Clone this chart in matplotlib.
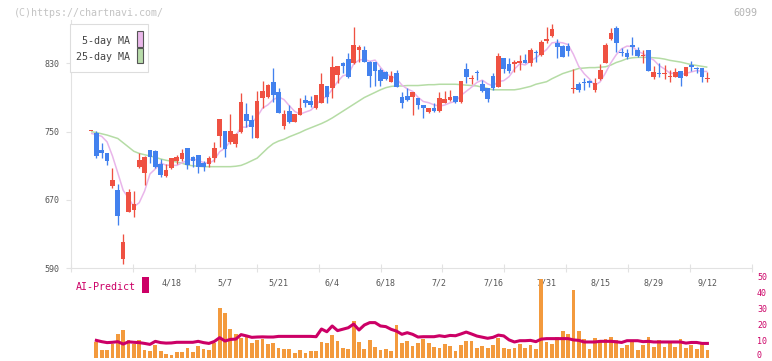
import matplotlib
matplotlib.use("Agg")
import matplotlib.pyplot as plt
from matplotlib.patches import Rectangle
import matplotlib.transforms as mtransforms
import numpy as np

# ---------------- data ----------------
opens = [751, 748.5, 728.5, 725, 686.8, 681.7, 601.3, 656.3, 658.6, 709,
         702, 728.6, 727, 712, 698, 708, 715.6, 718, 730.5, 720.3,
         722.7, 713.7, 711.7, 719.5, 745.3, 750.8, 737.5, 735.6, 750, 770.7,
         763.6, 743, 789.8, 791, 808.1, 796.8, 757, 774.6, 761.7, 769.5,
         787, 786, 777.3, 784, 803.5, 800.7, 816.4, 830.8, 835, 830,
         845.6, 845.6, 832, 832, 822.2, 820.3, 808.5, 818.3, 790.2, 791.8,
         790.2, 789.8, 781.2, 773, 777.3, 774.6, 784, 787.1, 791.8, 785.1,
         823, 811.3, 819.5, 805.8, 800.7, 815.2, 802.7, 835.9, 828.8, 828.8,
         830.8, 833.9, 830.8, 843.7, 839.8, 856.6, 862.4, 854.2, 850.3, 850.3,
         800.3, 805.8, 808, 809.3, 798.8, 811.7, 830.8, 858.5, 871, 842.9,
         841.7, 851.5, 845.6, 838.6, 845.6, 814.4, 819.1, 817.1, 814.4, 814.4,
         821, 815.6, 828, 824.9, 824.9, 811.3]
highs = [751, 750.8, 737, 725.5, 707, 688.7, 630.2, 682.5, 680, 725.5,
         721, 729, 729, 717.6, 712, 719.5, 722.7, 729.7, 731, 722,
         723, 716, 721, 738.3, 765, 751, 770.7, 749, 795, 783,
         769.5, 797.6, 809.3, 806, 824.2, 800.7, 775.4, 781.2, 771, 790,
         793, 791.8, 793.5, 819, 804, 838.6, 827, 831, 842.5, 873,
         851.5, 850, 833, 832, 824, 821, 821, 822.2, 796.8, 800.7,
         797, 790, 781.5, 777.5, 783, 796.8, 798, 798.8, 792, 809.5,
         830.8, 816.4, 822, 810.5, 801, 818.3, 842.5, 836, 835.9, 834,
         839.8, 841, 847.6, 845.6, 857.3, 873, 876, 858.5, 851, 854.2,
         823, 808.5, 812.4, 810.5, 812.4, 828.8, 853.4, 871, 873.7, 847.6,
         846.4, 860.5, 848.8, 845.6, 846, 826.9, 830.8, 828, 822.2, 824.2,
         821.5, 825.5, 832.7, 826, 825, 820.3]
lows = [751, 719.5, 719.5, 711.4, 684.4, 641, 595, 656, 650.5, 708,
        687, 713, 707, 696.5, 696.5, 706, 712.5, 716, 706.7, 709,
        702, 704, 709, 714, 731.6, 720, 736, 732, 748, 756,
        743, 742, 777.3, 789, 785, 772, 752.7, 760, 761, 769,
        779.3, 778.5, 776, 783, 783, 790, 806.6, 819, 812.4, 829,
        832, 831, 802.7, 803.5, 803.5, 810.5, 808, 802, 777.3, 786,
        769.5, 776, 765.6, 772, 773, 773, 783, 786, 784, 784,
        806.6, 805.8, 811, 797, 785, 798.8, 802, 819, 819, 820.3,
        822.2, 830, 826.9, 832, 839, 854, 861, 835.9, 837, 838.6,
        795.7, 796.8, 798.8, 802.7, 796.8, 811, 830, 857.3, 843.7, 838.6,
        834.7, 839.8, 837.8, 830, 821, 811.3, 814.4, 811.3, 808.5, 814,
        803.9, 815, 821.4, 819, 808.5, 808.5]
closes = [751, 722, 725.4, 716, 693.4, 651.6, 620.8, 679.3, 665.3, 717,
          720, 720.8, 709, 699.3, 705, 719, 720.3, 724.6, 711.4, 715.6,
          709, 709, 719.2, 730.9, 764.8, 729.7, 750.8, 747.3, 785, 762.9,
          756, 786, 797.6, 804.6, 793, 772.2, 770.7, 761.7, 770.7, 777.3,
          784, 781.6, 793, 805.8, 791, 826, 826.9, 827.3, 814.4, 851.5,
          848.8, 832, 815.2, 821.4, 809.7, 811.3, 815.2, 802.7, 784, 787.1,
          796.8, 781.2, 777.3, 777.3, 774.6, 789, 787.9, 790.2, 785.1, 809.3,
          813.6, 812.4, 818.3, 798, 787.9, 800.7, 838.6, 823.4, 821.4, 832,
          832.7, 830.8, 845.6, 841.7, 855, 858.1, 869.8, 849.5, 837.8, 844.8,
          801.1, 798.8, 807, 806.6, 807.4, 822.2, 851.5, 865.9, 854.2, 841.7,
          837.8, 848.8, 838.6, 839.8, 821.4, 820.3, 817.1, 818.3, 815.2, 819.5,
          813.2, 825.3, 826.1, 823.7, 814.4, 813.2]

ma5 = [748, 746.5, 744.5, 738,
       721.6, 701.7, 681.4, 672.2, 662.1, 666.8, 680.5, 700.5, 706.4, 713.2,
       710.8, 710.6, 710.5, 713.6, 716.1, 718.2, 716.2, 713.9, 712.8, 716.7,
       726.6, 730.7, 739.1, 744.7, 755.5, 755.1, 760.4, 767.4, 777.5, 781.4,
       787.4, 790.7, 787.6, 780.4, 773.7, 770.5, 772.9, 775.1, 781.3, 788.3,
       791.1, 799.5, 808.5, 815.4, 817.1, 829.2, 833.8, 834.8, 832.4, 833.8,
       825.4, 817.9, 814.6, 812.1, 804.6, 800.1, 797.2, 790.4, 785.3, 783.9,
       781.4, 779.9, 781.2, 783.8, 785.4, 792.3, 797.2, 802.1, 807.7, 810.3,
       806.0, 803.5, 808.7, 809.7, 814.4, 823.2, 829.6, 828.1, 832.5, 836.6,
       841.2, 846.2, 854.0, 854.8, 854.0, 852.0, 840.6, 826.4, 817.9, 811.7,
       804.2, 808.4, 818.9, 830.7, 840.2, 847.1, 850.2, 849.7, 844.2, 841.3,
       837.3, 833.8, 827.4, 823.4, 818.5, 818.1, 816.7, 818.3, 819.9, 821.6,
       820.5, 820.5]

ma25 = [750, 749, 747.5, 746, 744, 742, 737, 732, 727, 724.5,
        723, 721.5, 720, 718, 716.5, 715.5, 714.5, 713, 711, 710,
        709.5, 709, 709, 709, 709, 709, 709, 709.5, 710.5, 713,
        716, 719, 725, 731, 736, 739, 741, 744, 746.5, 749,
        752, 754.5, 757, 759.5, 762.5, 766, 770, 774, 778, 782,
        786, 790, 793, 796, 799, 801.5, 803, 803.5, 803.5, 804,
        804, 804, 804.5, 805, 805, 805.5, 805.5, 805.5, 805.5, 805,
        804.5, 804, 803.5, 802, 800.5, 799, 799, 799, 799, 799,
        800, 801.5, 803, 805.5, 807, 808.5, 812, 815, 818, 820,
        822, 824, 824.5, 825, 825, 825.5, 826, 828, 831, 833,
        835.5, 836.5, 837, 837, 837, 836.5, 836, 835, 833.5, 832.5,
        831.5, 830, 828.5, 827.5, 826.5, 825.5]

# volume / AI-Predict start at the second candle
volume = [10.2, 5.2, 5.2, 9.1, 15.2, 17.7, 11.4, 9.1, 11.4, 5.2,
          4.8, 8.3, 4.6, 2.7, 2.1, 3.9, 3.9, 6.4, 3.9, 7.7,
          5.8, 5.2, 9.5, 31.4, 28.3, 18.3, 15.2, 12.7, 14.5, 9.5,
          11.4, 12.1, 8.9, 9.5, 6.4, 5.8, 5.8, 3.3, 5.2, 3.3,
          4.6, 4.6, 10.2, 9.5, 14.5, 10.8, 6.4, 5.8, 23.3, 10.2,
          5.8, 11.4, 7.0, 5.2, 5.8, 4.6, 20.8, 9.5, 10.8, 7.7,
          9.5, 12.1, 9.5, 7.0, 6.4, 8.9, 7.7, 4.6, 8.3, 10.8,
          10.8, 6.4, 7.7, 6.4, 8.3, 12.7, 6.4, 5.8, 6.4, 8.9,
          6.4, 8.3, 5.8, 49.5, 10.2, 8.9, 13.3, 17.0, 15.2, 42.7,
          17.0, 12.1, 5.8, 12.7, 11.4, 12.1, 13.3, 11.4, 6.6, 8.3,
          10.8, 5.2, 8.3, 13.3, 7.0, 11.4, 7.0, 9.5, 7.0, 12.1,
          6.4, 8.3, 5.8, 8.9, 5.2]
ai_predict = [11.2, 10.4, 9.8, 10.0, 10.4, 8.9, 10.3, 10.0, 9.8, 9.3,
              8.7, 10.6, 9.8, 9.5, 9.6, 10.0, 10.0, 10.0, 10.0, 10.6,
              9.8, 9.3, 10.5, 12.9, 10.8, 11.8, 12.0, 14.8, 14.0, 13.1,
              13.3, 13.4, 13.3, 13.3, 13.7, 13.7, 13.7, 13.7, 13.7, 13.7,
              13.7, 13.5, 18.3, 16.6, 20.2, 17.3, 18.2, 19.1, 21.4, 17.7,
              20.8, 22.3, 22.3, 20.2, 19.8, 18.1, 17.0, 15.0, 16.0, 15.0,
              13.3, 13.5, 13.5, 13.5, 14.1, 13.6, 14.3, 14.1, 15.2, 16.4,
              15.2, 13.9, 13.2, 12.5, 13.1, 14.5, 14.0, 11.5, 10.2, 11.0,
              11.0, 11.2, 10.4, 12.0, 12.3, 12.3, 12.3, 12.3, 12.3, 11.5,
              11.2, 10.2, 10.2, 10.2, 10.6, 10.6, 10.6, 10.3, 9.9, 11.0,
              11.0, 11.0, 10.4, 10.6, 10.2, 10.2, 10.2, 10.2, 10.2, 10.2,
              9.5, 9.9, 9.9, 9.3, 9.3]

date_labels = ["4/18", "5/7", "5/21", "6/4", "6/18", "7/2", "7/16", "7/31", "8/15", "8/29", "9/12"]
date_label_idx = [15, 25, 35, 45, 55, 65, 75, 85, 95, 105, 115]
price_ticks = [590, 670, 750, 830]
volume_ticks = [0, 10, 20, 30, 40, 50]

# ---------------- layout (pixels) ----------------
W, H = 772, 361
AX_L, AX_R = 70.7, 752.3
MAIN_TOP, MAIN_BOT = 20.0, 268.3
VOL_TOP, VOL_BOT = 275.0, 358.3
X0_PX, DX_PX = 91.0, 5.36          # pixel of candle 0, pixels per candle
PX_PER_PRICE = 0.854
PX_PER_VOL = 1.6
MONO = "DejaVu Sans Mono"

RED = "#ef5142"
BLUE = "#4281ee"
GRID = "#e2e2e2"
CRIMSON = "#cc0066"

def fx(px):
    return px / W

def fy(py):
    return 1 - py / H

xlim = ((AX_L - X0_PX) / DX_PX, (AX_R - X0_PX) / DX_PX)

fig = plt.figure(figsize=(W / 100, H / 100), dpi=100)
fig.patch.set_facecolor("white")

# ---------------- main price axes ----------------
ax = fig.add_axes([fx(AX_L), fy(MAIN_BOT), (AX_R - AX_L) / W, (MAIN_BOT - MAIN_TOP) / H])
ax.set_xlim(*xlim)
ax.set_ylim(590, 590 + (MAIN_BOT - MAIN_TOP) / PX_PER_PRICE)

idx = np.arange(len(closes))
o = np.array(opens); c = np.array(closes); h = np.array(highs); l = np.array(lows)
up = c >= o
colors = np.where(up, RED, BLUE)
body_low = np.minimum(o, c)
body_h = np.maximum(np.abs(c - o), 1.3)

ax.plot(idx, ma25, color="#b5dca5", lw=1.1, zorder=1, solid_capstyle="butt")
ax.plot(idx, ma5, color="#e9b5ea", lw=1.1, zorder=1, solid_capstyle="butt")
ax.vlines(idx, l, h, colors=colors, lw=0.95, zorder=2)
ax.bar(idx, body_h, bottom=body_low, width=0.86, color=colors, linewidth=0, zorder=3)

for s in ["top", "right"]:
    ax.spines[s].set_visible(False)
for s in ["left", "bottom"]:
    ax.spines[s].set_color(GRID)
    ax.spines[s].set_linewidth(0.8)

ax.set_yticks(price_ticks)
ax.set_yticklabels([str(v) for v in price_ticks])
ax.tick_params(axis="y", length=3.8, width=0.8, color=GRID, labelcolor="#555555",
               labelsize=6, pad=4.6)
for t in ax.get_yticklabels():
    t.set_family(MONO)

xt = [(AX_L + 61.96 * k - X0_PX) / DX_PX for k in range(12)]
ax.set_xticks(xt)
ax.set_xticklabels([])
ax.tick_params(axis="x", direction="inout", length=6, width=0.8, color=GRID)

lab_y = -(283.0 - MAIN_BOT) / (MAIN_BOT - MAIN_TOP)
for lbl, pos in zip(date_labels, date_label_idx):
    ax.text(pos, lab_y, lbl, transform=ax.get_xaxis_transform(), ha="center",
            va="center", fontsize=6, color="#555555", family=MONO)

# ---------------- volume / AI axes ----------------
ax2 = fig.add_axes([fx(AX_L), fy(VOL_BOT), (AX_R - AX_L) / W, (VOL_BOT - VOL_TOP) / H])
ax2.set_xlim(*xlim)
ax2.set_ylim(0, (VOL_BOT - VOL_TOP) / PX_PER_VOL)
vidx = np.arange(1, len(volume) + 1)
ax2.bar(vidx, volume, width=0.7, color="#f39a3d", linewidth=0, zorder=2)
ax2.plot(vidx, ai_predict, color=CRIMSON, lw=2.2, zorder=3)
for s in ax2.spines.values():
    s.set_visible(False)
ax2.set_xticks([])
ax2.set_yticks([])
ax2.patch.set_alpha(0)

# right-hand volume scale labels (bottom one nudged up to stay inside the image)
vt_trans = ax2.get_yaxis_transform()
for v in volume_ticks:
    nudge = 3.0 if v == 0 else 0.8
    tr = mtransforms.offset_copy(vt_trans, fig=fig, x=0, y=nudge * 72 / 100, units="points")
    ax2.text((757.0 - AX_L) / (AX_R - AX_L), v, str(v), transform=tr,
             ha="left", va="center", fontsize=6, color=CRIMSON, family=MONO,
             clip_on=False)

# AI-Predict label
fig.text(fx(75.5), fy(286.5), "AI-Predict", color=CRIMSON, fontsize=7.2,
         family=MONO, ha="left", va="center")
fig.add_artist(Rectangle((fx(142.3), fy(292.7)), 6.7 / W, 15.4 / H,
                         transform=fig.transFigure, facecolor=CRIMSON, edgecolor="none"))

# ---------------- legend box ----------------
fig.add_artist(Rectangle((fx(70.2), fy(71.5)), (148.3 - 70.2) / W, (71.5 - 24.2) / H,
                         transform=fig.transFigure, facecolor="white",
                         edgecolor="#dddddd", lw=0.8, zorder=5))
fig.text(fx(129.8), fy(41.0), "5-day MA", color="#444444", fontsize=7.2,
         family=MONO, ha="right", va="center", zorder=6)
fig.text(fx(129.8), fy(57.0), "25-day MA", color="#444444", fontsize=7.2,
         family=MONO, ha="right", va="center", zorder=6)
fig.add_artist(Rectangle((fx(136.5), fy(46.5)), 6.2 / W, 15.2 / H,
                         transform=fig.transFigure, facecolor="#eab8ea",
                         edgecolor="#555555", lw=0.8, zorder=6))
fig.add_artist(Rectangle((fx(136.5), fy(63.3)), 6.2 / W, 15.2 / H,
                         transform=fig.transFigure, facecolor="#b8dcaa",
                         edgecolor="#555555", lw=0.8, zorder=6))

# ---------------- header ----------------
fig.text(fx(14), fy(12.5), "(C)https://chartnavi.com/", color="#c4c4c4",
         fontsize=7.2, family=MONO, ha="left", va="center")
fig.text(fx(757), fy(12.5), "6099", color="#b4b4b4", fontsize=7.2,
         family=MONO, ha="right", va="center")

fig.savefig("out.png", dpi=100, facecolor="white")
